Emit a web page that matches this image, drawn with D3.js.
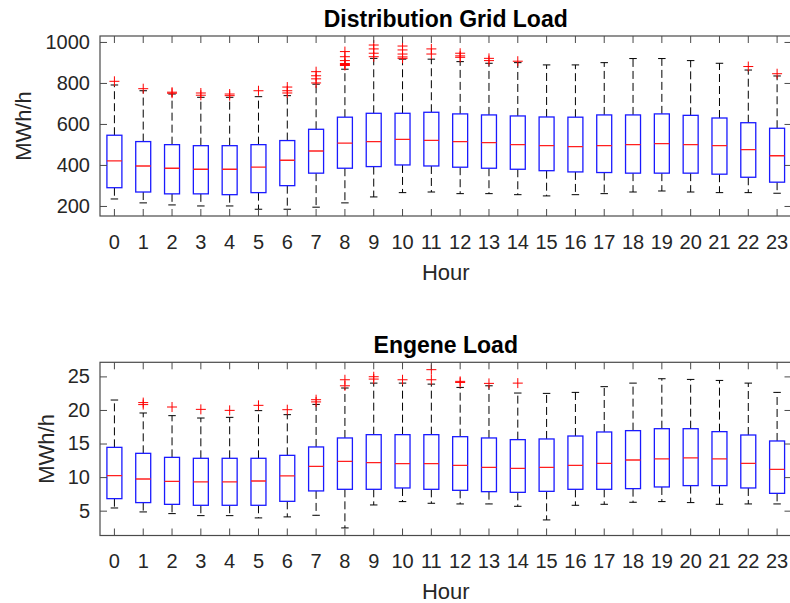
<!DOCTYPE html>
<html>
<head>
<meta charset="utf-8">
<script src="https://cdn.jsdelivr.net/npm/d3@7"></script>
<style>
  html, body { margin: 0; padding: 0; background: #fff; }
  svg { display: block; }
  text { font-family: "Liberation Sans", Arial, Helvetica, sans-serif; }
</style>
</head>
<body>
<svg id="chart" width="790" height="603"></svg>
<script>
// Hour of day categories shared by both panels
const hours = ["0","1","2","3","4","5","6","7","8","9","10","11","12","13","14","15","16","17","18","19","20","21","22","23"];

// Distribution grid load (MWh/h): whisker ends, quartiles, medians, outliers per hour
const gridLow    = [234, 215, 205, 200, 200, 184, 184, 194, 215, 244, 265, 268, 260, 260, 255, 249, 255, 260, 268, 273, 268, 265, 265, 262];
const gridQ1     = [289, 268, 259, 259, 255, 265, 299, 360, 384, 392, 400, 395, 389, 384, 379, 372, 366, 363, 360, 360, 360, 355, 340, 316];
const gridMedian = [420, 395, 384, 379, 379, 389, 423, 468, 506, 514, 525, 520, 514, 509, 499, 494, 489, 494, 499, 504, 499, 494, 475, 445];
const gridQ3     = [545, 514, 499, 494, 494, 499, 519, 574, 633, 652, 652, 657, 649, 644, 639, 634, 633, 644, 644, 649, 642, 629, 606, 579];
const gridHigh   = [790, 762, 746, 730, 730, 733, 738, 794, 867, 920, 916, 916, 904, 896, 899, 888, 888, 899, 919, 919, 909, 896, 863, 834];
const gridOutliers = [
  [808], [772], [750, 755], [740, 751], [738, 746], [762], [751, 762, 780],
  [800, 820, 835, 855], [885, 890, 895, 909, 928, 953], [928, 945, 966, 985],
  [920, 927, 941, 961, 980], [941, 966], [925, 932, 945], [909, 920], [906],
  [], [], [], [], [], [], [], [880], [845]
];
const gridTicks = [200, 400, 600, 800, 1000];

// Engene load (MWh/h)
const engLow    = [5.4, 4.81, 4.56, 4.26, 4.26, 3.92, 4.07, 4.31, 2.43, 5.85, 6.35, 6.1, 6.0, 6.0, 5.65, 3.62, 5.8, 5.95, 6.25, 6.35, 6.2, 5.95, 6.0, 6.0];
const engQ1     = [6.79, 6.2, 5.94, 5.8, 5.8, 5.8, 6.39, 7.94, 8.18, 8.18, 8.38, 8.18, 8.03, 7.83, 7.73, 7.88, 8.18, 8.18, 8.28, 8.53, 8.73, 8.73, 8.38, 7.58];
const engMedian = [10.22, 9.72, 9.37, 9.28, 9.28, 9.42, 10.17, 11.6, 12.35, 12.15, 12.0, 12.0, 11.75, 11.45, 11.3, 11.45, 11.75, 12.05, 12.55, 12.7, 12.85, 12.7, 12.05, 11.15];
const engQ3     = [14.43, 13.54, 12.94, 12.8, 12.8, 12.8, 13.24, 14.49, 15.83, 16.32, 16.32, 16.32, 16.02, 15.83, 15.58, 15.68, 16.12, 16.72, 16.92, 17.21, 17.21, 16.77, 16.27, 15.38];
const engHigh   = [21.48, 19.55, 19.15, 18.8, 18.9, 19.9, 19.3, 20.83, 23.27, 24.0, 24.0, 23.85, 23.36, 23.6, 22.52, 22.47, 22.62, 23.47, 24.0, 24.65, 24.55, 24.4, 24.0, 22.62];
const engOutliers = [
  [], [20.8, 21.1], [20.44], [20.09], [19.94], [20.69], [20.04], [21.2, 21.53],
  [23.6, 24.5], [24.6, 24.95], [24.5], [24.5, 26.0], [24.1, 24.26], [23.96], [24.0],
  [], [], [], [], [], [], [], [], []
];
const engTicks = [5, 10, 15, 20, 25];

const svg = d3.select("#chart");

const BOX_BLUE = "#1a1aff";
const MED_RED = "#ff2020";
const FRAME = "#4a4a4a";
const TEXT_COL = "#262626";

function drawPanel(p) {
  const g = svg.append("g");
  const x = d3.scaleBand().domain(hours).range([p.left, p.right]).padding(0);
  const y = d3.scaleLinear().domain(p.domain).range([p.bottom, p.top]);
  const bw = x.bandwidth() * 0.52;
  const cx = h => x(h) + x.bandwidth() / 2;

  const rows = hours.map((h, i) => ({
    h, lo: p.low[i], q1: p.q1[i], med: p.med[i], q3: p.q3[i], hi: p.high[i], out: p.out[i]
  }));

  // plot area
  g.append("rect")
    .attr("x", p.left).attr("y", p.top)
    .attr("width", p.right - p.left).attr("height", p.bottom - p.top)
    .attr("fill", "#fff");

  const clip = "clip-" + p.id;
  g.append("clipPath").attr("id", clip).append("rect")
    .attr("x", p.left).attr("y", p.top)
    .attr("width", p.right - p.left).attr("height", p.bottom - p.top);

  const marks = g.append("g").attr("clip-path", `url(#${clip})`);
  const box = marks.selectAll("g.box").data(rows).join("g").attr("class", "box");

  // dashed whiskers
  box.append("line")
    .attr("x1", d => cx(d.h)).attr("x2", d => cx(d.h))
    .attr("y1", d => y(d.q3)).attr("y2", d => y(d.hi))
    .attr("stroke", "#000").attr("stroke-width", 1).attr("stroke-dasharray", "8,4");
  box.append("line")
    .attr("x1", d => cx(d.h)).attr("x2", d => cx(d.h))
    .attr("y1", d => y(d.q1)).attr("y2", d => y(d.lo))
    .attr("stroke", "#000").attr("stroke-width", 1).attr("stroke-dasharray", "8,4");

  // whisker caps
  ["hi", "lo"].forEach(k => {
    box.append("line")
      .attr("x1", d => cx(d.h) - bw / 4).attr("x2", d => cx(d.h) + bw / 4)
      .attr("y1", d => y(d[k])).attr("y2", d => y(d[k]))
      .attr("stroke", "#000").attr("stroke-width", 1);
  });

  // interquartile boxes
  box.append("rect")
    .attr("x", d => cx(d.h) - bw / 2).attr("width", bw)
    .attr("y", d => y(d.q3)).attr("height", d => y(d.q1) - y(d.q3))
    .attr("fill", "#fff").attr("stroke", BOX_BLUE).attr("stroke-width", 1.3);

  // medians
  box.append("line")
    .attr("x1", d => cx(d.h) - bw / 2).attr("x2", d => cx(d.h) + bw / 2)
    .attr("y1", d => y(d.med)).attr("y2", d => y(d.med))
    .attr("stroke", MED_RED).attr("stroke-width", 1.3);

  // outliers as red plus signs
  const pts = rows.flatMap(d => d.out.map(v => ({ h: d.h, v })));
  const s = 5;
  marks.selectAll("path.out").data(pts).join("path")
    .attr("class", "out")
    .attr("d", d => {
      const px = cx(d.h), py = y(d.v);
      return `M${px - s},${py}H${px + s}M${px},${py - s}V${py + s}`;
    })
    .attr("stroke", "#ff0000").attr("stroke-width", 1).attr("fill", "none");

  // axes with inward ticks on all four sides
  const tickLen = 7;
  const fontSize = 20;

  const ax = g.append("g").attr("transform", `translate(0,${p.bottom})`)
    .call(d3.axisBottom(x).tickSizeInner(-tickLen).tickSizeOuter(0).tickPadding(18.5));
  const ay = g.append("g").attr("transform", `translate(${p.left},0)`)
    .call(d3.axisLeft(y).tickValues(p.ticks).tickFormat(d3.format("d"))
      .tickSizeInner(-tickLen).tickSizeOuter(0).tickPadding(10));
  const axT = g.append("g").attr("transform", `translate(0,${p.top})`)
    .call(d3.axisTop(x).tickSizeInner(-tickLen).tickSizeOuter(0).tickFormat(""));
  const ayR = g.append("g").attr("transform", `translate(${p.right},0)`)
    .call(d3.axisRight(y).tickValues(p.ticks).tickSizeInner(-tickLen).tickSizeOuter(0).tickFormat(""));

  [ax, ay, axT, ayR].forEach(a => {
    a.select(".domain").remove();
    a.selectAll(".tick line").attr("stroke", FRAME).attr("stroke-width", 1);
    a.selectAll(".tick text")
      .attr("fill", TEXT_COL)
      .style("font-size", fontSize + "px")
      .style("font-family", '"Liberation Sans", Arial, Helvetica, sans-serif');
  });

  // frame
  g.append("rect")
    .attr("x", p.left).attr("y", p.top)
    .attr("width", p.right - p.left).attr("height", p.bottom - p.top)
    .attr("fill", "none").attr("stroke", FRAME).attr("stroke-width", 1.2);

  // title
  g.append("text")
    .attr("x", (p.left + p.right) / 2).attr("y", p.top - 9.5)
    .attr("text-anchor", "middle")
    .style("font-size", "23px").style("font-weight", "bold")
    .attr("fill", "#000")
    .text(p.title);

  // x label
  g.append("text")
    .attr("x", (p.left + p.right) / 2).attr("y", p.bottom + 63.5)
    .attr("text-anchor", "middle")
    .style("font-size", "22px")
    .attr("fill", TEXT_COL)
    .text("Hour");

  // y label
  g.append("text")
    .attr("transform", `translate(${p.ylabelX},${(p.top + p.bottom) / 2}) rotate(-90)`)
    .attr("text-anchor", "middle")
    .attr("dy", "0.36em")
    .style("font-size", "22px")
    .attr("fill", TEXT_COL)
    .text("MWh/h");
}

drawPanel({
  id: "grid", title: "Distribution Grid Load",
  left: 100, right: 791.5, top: 36, bottom: 216,
  domain: [151, 1029], ticks: gridTicks, ylabelX: 23,
  low: gridLow, q1: gridQ1, med: gridMedian, q3: gridQ3, high: gridHigh, out: gridOutliers
});

drawPanel({
  id: "eng", title: "Engene Load",
  left: 100, right: 791.5, top: 362.3, bottom: 535.5,
  domain: [1.3, 27.1], ticks: engTicks, ylabelX: 46,
  low: engLow, q1: engQ1, med: engMedian, q3: engQ3, high: engHigh, out: engOutliers
});
</script>
</body>
</html>
